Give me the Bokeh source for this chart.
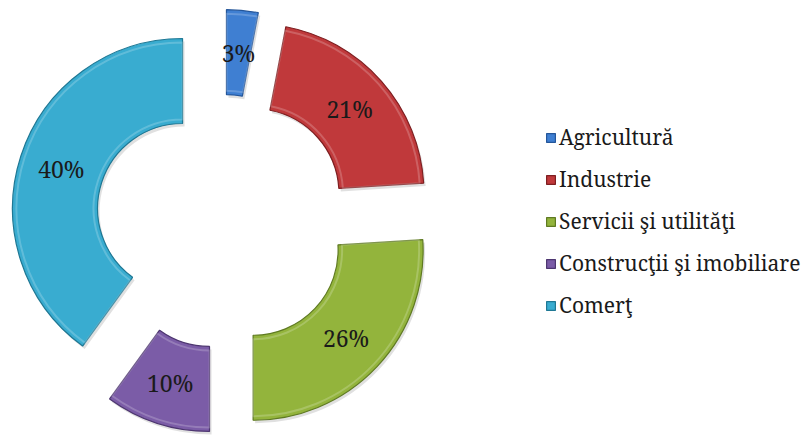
import numpy as np
from bokeh.plotting import figure
from bokeh.models import ColumnDataSource, Range1d, Legend, LegendItem
from bokeh.embed import file_html
from bokeh.resources import INLINE
from bokeh.core.properties import value

# ---- data ----
categories = ["Agricultură", "Industrie", "Servicii şi utilităţi",
              "Construcţii şi imobiliare", "Comerţ"]
shares = [3, 21, 26, 10, 40]
pct_labels = ["3%", "21%", "26%", "10%", "40%"]
colors = ["#3f7fd2", "#c0393b", "#93b43c", "#7b5ca7", "#39acd0"]
edge_colors = ["#24569a", "#7e1f21", "#5f7a22", "#4d3670", "#1f7894"]

# ---- geometry (pixels) ----
R_OUT, R_IN, EXPLODE = 170, 85, 42
W, H = 811, 435
CX, CY = 222, 221

vals = np.array(shares, dtype=float)
frac = vals / vals.sum()
end_cw = np.cumsum(frac) * 2 * np.pi
start_cw = end_cw - frac * 2 * np.pi
mid_cw = (start_cw + end_cw) / 2
start_a = np.pi / 2 - start_cw
end_a = np.pi / 2 - end_cw
mid_a = np.pi / 2 - mid_cw
ox = EXPLODE * np.cos(mid_a)
oy = EXPLODE * np.sin(mid_a)
rm = (R_OUT + R_IN) / 2
lx = ox + rm * np.cos(mid_a)
ly = oy + rm * np.sin(mid_a)

src = ColumnDataSource(dict(x=ox, y=oy, sx=ox + 2, sy=oy - 3, start=start_a, end=end_a,
                            color=colors, edge=edge_colors, cat=categories,
                            lx=lx, ly=ly, lab=pct_labels))

p = figure(width=W, height=H, output_backend="svg", toolbar_location=None,
           x_range=Range1d(-CX, W - CX), y_range=Range1d(-(H - CY), CY),
           x_axis_type=None, y_axis_type=None, min_border=0,
           outline_line_color=None)
p.grid.visible = False
p.background_fill_color = "white"

p.annular_wedge(x="sx", y="sy", inner_radius=R_IN, outer_radius=R_OUT,
                start_angle="start", end_angle="end", direction="clock",
                source=src, fill_color="#000000", fill_alpha=0.12, line_color=None)

r = p.annular_wedge(x="x", y="y", inner_radius=R_IN, outer_radius=R_OUT,
                    start_angle="start", end_angle="end", direction="clock",
                    source=src, fill_color="color", line_color="edge", line_width=1.2)

p.annular_wedge(x="x", y="y", inner_radius=R_IN + 4, outer_radius=R_OUT - 4,
                start_angle="start", end_angle="end", direction="clock",
                source=src, fill_alpha=0.0,
                line_color="white", line_alpha=0.2, line_width=2)

p.text(x="lx", y="ly", text="lab", source=src, text_align="center",
       text_baseline="middle", text_font=value("Noto Serif"),
       text_font_size="23px", text_color="#1a1a1a")

items = [LegendItem(label=c, renderers=[r], index=i) for i, c in enumerate(categories)]
legend = Legend(items=items, location=(545, 116), orientation="vertical",
                glyph_width=11, glyph_height=11,
                label_standoff=3, spacing=14, label_height=28, padding=0, margin=0,
                border_line_color=None, background_fill_alpha=0)
legend.label_text_font = "Noto Serif"
legend.label_text_font_size = "21px"
legend.label_text_color = "#1a1a1a"
p.add_layout(legend, "center")

open("out.html", "w").write(file_html(p, INLINE))
